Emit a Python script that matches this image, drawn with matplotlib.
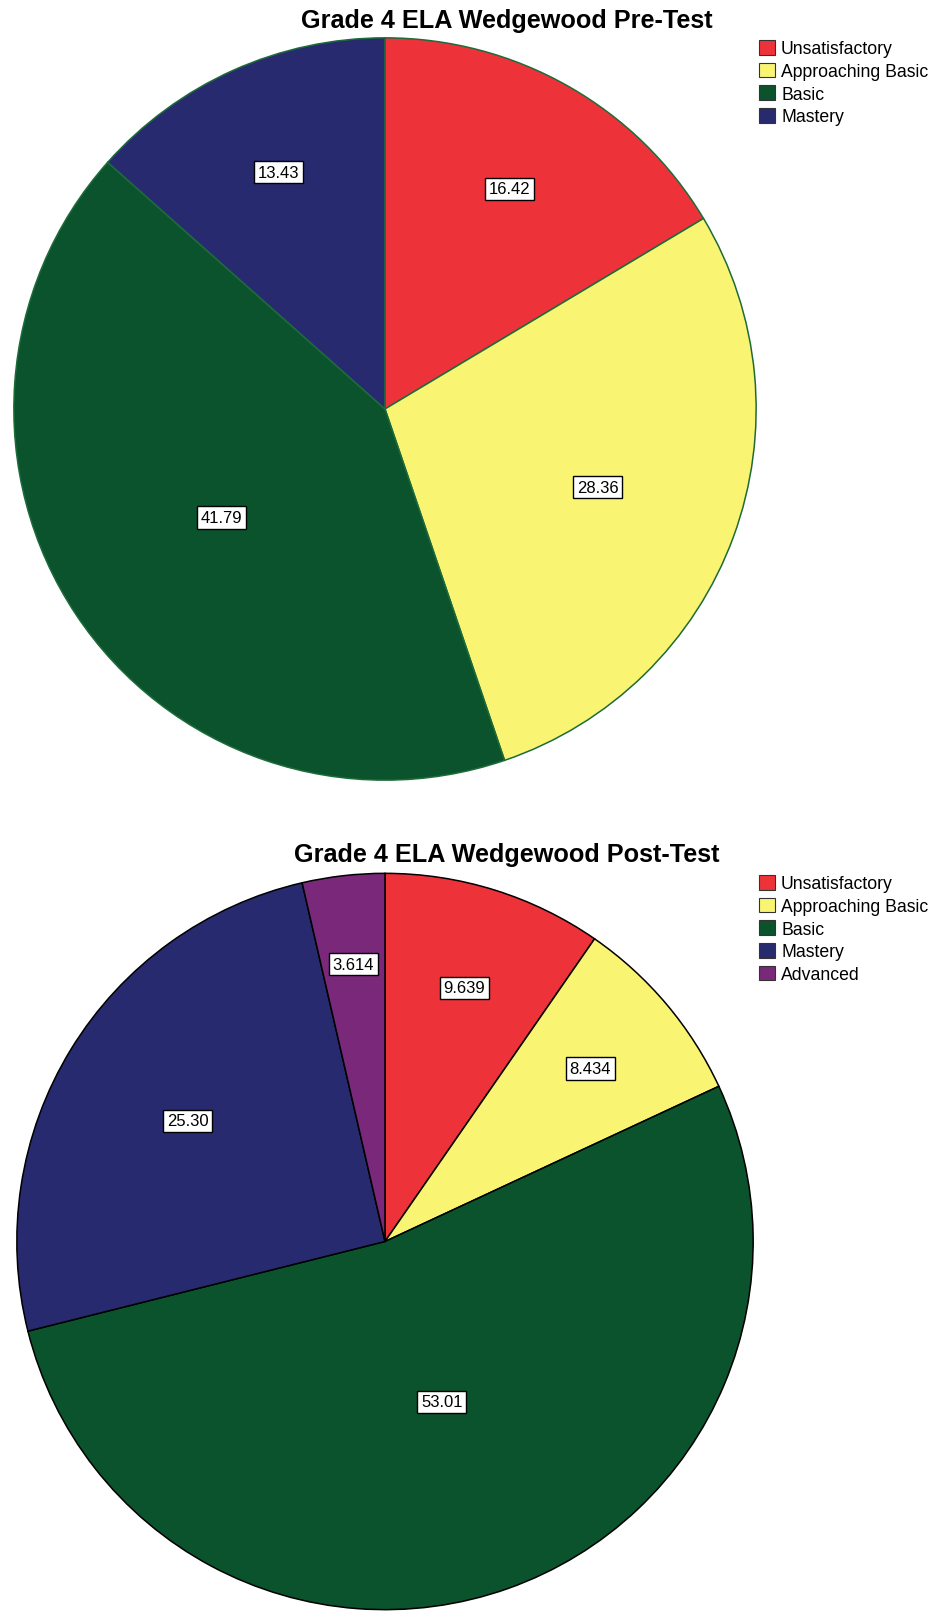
import numpy as np
import matplotlib
matplotlib.use("Agg")
import matplotlib.pyplot as plt
from matplotlib.patches import Patch

plt.rcParams['font.family'] = ['Liberation Sans', 'DejaVu Sans']

pre_labels = ["Unsatisfactory", "Approaching Basic", "Basic", "Mastery"]
pre_values = [16.42, 28.36, 41.79, 13.43]
pre_text = ["16.42", "28.36", "41.79", "13.43"]

post_labels = ["Unsatisfactory", "Approaching Basic", "Basic", "Mastery", "Advanced"]
post_values = [9.639, 8.434, 53.01, 25.30, 3.614]
post_text = ["9.639", "8.434", "53.01", "25.30", "3.614"]

palette = {
    "Unsatisfactory": "#EE3239",
    "Approaching Basic": "#F9F573",
    "Basic": "#0B532C",
    "Mastery": "#282A70",
    "Advanced": "#7A287A",
}

W, H = 937, 1615
fig = plt.figure(figsize=(W / 100, H / 100), dpi=100)


def draw_pie(cx, cy, r, labels, values, texts, title, title_y, edge, leg_y):
    ax = fig.add_axes([(cx - r) / W, 1 - (cy + r) / H, 2 * r / W, 2 * r / H])
    colors = [palette[l] for l in labels]
    wedges, _ = ax.pie(values, colors=colors, startangle=90, counterclock=False,
                       radius=1, wedgeprops=dict(edgecolor=edge, linewidth=1.1))
    total = sum(values)
    for w, v, t in zip(wedges, values, texts):
        mid = np.deg2rad((w.theta1 + w.theta2) / 2)
        # small slices get their label pushed further out
        d = 0.78 - 0.6 * v / total
        ax.text(d * np.cos(mid), d * np.sin(mid), t, ha='center', va='center',
                fontsize=12,
                bbox=dict(boxstyle='square,pad=0.22', fc='white', ec='black', lw=1))
    ax.set_xlim(-1.005, 1.005)
    ax.set_ylim(-1.005, 1.005)
    ax.set_aspect('equal')
    ax.axis('off')
    fig.text(507 / W, 1 - title_y / H, title, ha='center', va='baseline',
             fontsize=18.2, fontweight='bold')
    handles = [Patch(facecolor=c, edgecolor='#333333', linewidth=0.8) for c in colors]
    fig.legend(handles, labels, loc='upper left', bbox_to_anchor=(759 / W, 1 - leg_y / H),
               frameon=False, fontsize=12.7, borderpad=0, handlelength=0.9,
               handleheight=0.9, handletextpad=0.35, labelspacing=0.3, borderaxespad=0)


draw_pie(385, 410, 373, pre_labels, pre_values, pre_text,
         "Grade 4 ELA Wedgewood Pre-Test", 28, '#1E6B3A', 41)
draw_pie(385, 1242.5, 370, post_labels, post_values, post_text,
         "Grade 4 ELA Wedgewood Post-Test", 862, 'black', 876)

fig.savefig("out.png", dpi=100, facecolor='white')
